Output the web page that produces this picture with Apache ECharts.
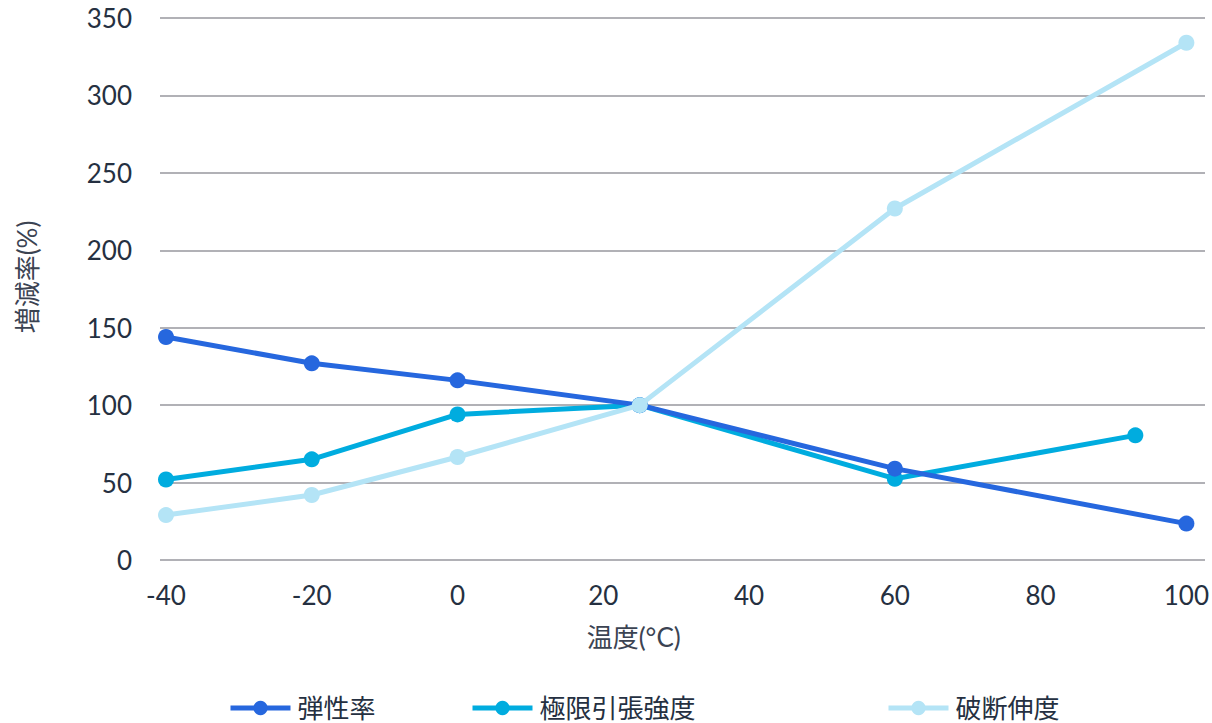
<!DOCTYPE html>
<html>
<head>
<meta charset="utf-8">
<script src="https://cdn.jsdelivr.net/npm/echarts@6/dist/echarts.min.js"></script>
<style>html,body{margin:0;padding:0;background:#fff;}#c{width:1212px;height:723px;}</style>
</head>
<body>
<div id="c"></div>
<script>
// Data
const seriesNames = ['弾性率', '極限引張強度', '破断伸度'];
const elasticX = [-40, -20, 0, 25, 60, 100];
const elasticY = [144, 127, 116, 100, 59, 23.5];
const tensileX = [-40, -20, 0, 25, 60, 93];
const tensileY = [52, 65, 94, 100, 52.5, 80.5];
const elongX = [-40, -20, 0, 25, 60, 100];
const elongY = [29, 42, 66.5, 100, 227, 334];
const xTicks = [-40, -20, 0, 20, 40, 60, 80, 100];
const yTicks = [0, 50, 100, 150, 200, 250, 300, 350];
const xAxisName = '温度(°C)';
const yAxisName = '増減率(%)';
const colors = ['#2667de', '#00acdf', '#b4e4f6'];

const pair = (xs, ys) => xs.map((x, i) => [x, ys[i]]);
const font = 'Lato, "Noto Sans CJK JP", sans-serif';
const textColor = '#253041';

const chart = echarts.init(document.getElementById('c'), null, {renderer: 'svg'});
const mkSeries = (name, data, color, z) => ({
  name, type: 'line', xAxisIndex: 1, yAxisIndex: 1, data, z,
  symbol: 'circle', symbolSize: 16,
  lineStyle: {width: 5, color},
  itemStyle: {color},
  emphasis: {disabled: true},
  animation: false
});
const mkLegend = (name, left) => ({
  data: [name], left, top: 694, padding: 0, itemWidth: 60, itemHeight: 18, itemGap: 0,
  lineStyle: {width: 5},
  textStyle: {fontSize: 26, lineHeight: 28, color: textColor, fontFamily: font, padding: [0, 0, 0, 2]},
  selectedMode: false
});

chart.setOption({
  animation: false,
  textStyle: {fontFamily: font},
  grid: [
    {left: 160, right: 7, top: 18, bottom: 163},
    {left: 166, right: 25, top: 18, bottom: 163}
  ],
  xAxis: [
    {gridIndex: 0, type: 'value', min: 0, max: 1, show: false},
    {
      gridIndex: 1, type: 'value', min: xTicks[0], max: xTicks[xTicks.length - 1], interval: 20,
      axisLine: {show: false}, axisTick: {show: false}, splitLine: {show: false},
      axisLabel: {fontSize: 26, color: textColor, margin: 22, fontFamily: font},
      name: xAxisName, nameLocation: 'middle', nameGap: 64,
      nameTextStyle: {fontSize: 26, color: '#3b4352', fontFamily: font, padding: [0, 85, 0, 0]}
    }
  ],
  yAxis: [
    {
      gridIndex: 0, type: 'value', min: yTicks[0], max: yTicks[yTicks.length - 1], interval: 50,
      axisLine: {show: false}, axisTick: {show: false},
      splitLine: {lineStyle: {color: '#b1b1b6', width: 2}},
      axisLabel: {fontSize: 26, color: textColor, margin: 28, fontFamily: font},
      name: yAxisName, nameLocation: 'middle', nameRotate: 90, nameGap: 120,
      nameTextStyle: {fontSize: 26, color: '#3b4352', fontFamily: font, padding: [0, 0, 0, 24]}
    },
    {gridIndex: 1, type: 'value', min: 0, max: 350, show: false}
  ],
  legend: [
    mkLegend(seriesNames[0], 228),
    mkLegend(seriesNames[1], 470),
    mkLegend(seriesNames[2], 886)
  ],
  series: [
    mkSeries(seriesNames[0], pair(elasticX, elasticY), colors[0], 3),
    mkSeries(seriesNames[1], pair(tensileX, tensileY), colors[1], 2),
    mkSeries(seriesNames[2], pair(elongX, elongY), colors[2], 4)
  ]
});
</script>
</body>
</html>
